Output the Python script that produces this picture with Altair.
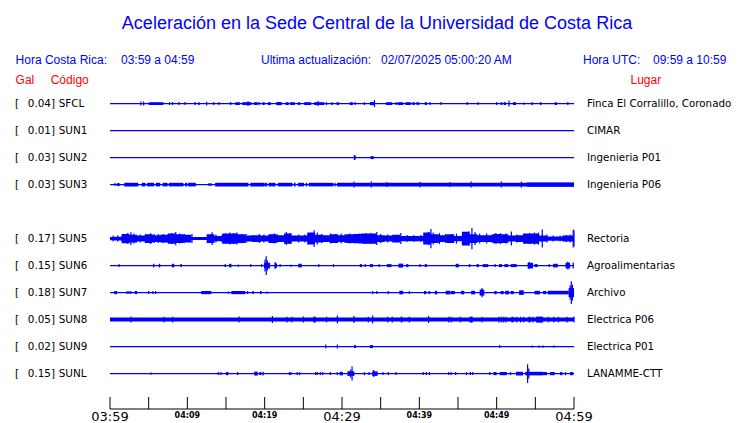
import altair as alt
import pandas as pd

# ---------------- text ----------------
TITLE = "Aceleración en la Sede Central de la Universidad de Costa Rica"
HEADER = ["Hora Costa Rica:", "03:59 a 04:59", "Ultima actualización:",
          "02/07/2025 05:00:20 AM", "Hora UTC:", "09:59 a 10:59"]
COLUMN_HEADS = ["Gal", "Código", "Lugar"]

# ---------------- stations ----------------
CODES = ["SFCL", "SUN1", "SUN2", "SUN3", "SUN5", "SUN6", "SUN7", "SUN8", "SUN9", "SUNL"]
PEAK_GAL = ["0.04", "0.01", "0.03", "0.03", "0.17", "0.15", "0.18", "0.05", "0.02", "0.15"]
PLACES = ["Finca El Corralillo, Coronado", "CIMAR", "Ingenieria P01", "Ingenieria P06",
          "Rectoria", "Agroalimentarias", "Archivo", "Electrica P06", "Electrica P01",
          "LANAMME-CTT"]
ROW_SLOT = [0, 1, 2, 3, 5, 6, 7, 8, 9, 10]

# ---------------- time axis (minutes after 03:59) ----------------
TICK_MINUTES = [0, 5, 10, 15, 20, 25, 30, 35, 40, 45, 50, 55, 60]
MAJOR_MINUTES = [0, 30, 60]
MAJOR_LABELS = ["03:59", "04:29", "04:59"]
MINOR_MINUTES = [10, 20, 40, 50]
MINOR_LABELS = ["04:09", "04:19", "04:39", "04:49"]

# ---------------- trace activity: (start minute, end minute, deflection) ----------------
SFCL_EVENTS = [(4.0, 4.0, 2), (4.35, 4.35, 2), (5.0, 6.9, 1.4), (7.7, 7.7, 1.5), (8.1, 8.1, 1.5),
               (8.9, 8.9, 1.5), (9.7, 9.7, 1.5), (11.0, 11.0, 1.5), (11.4, 11.6, 1.4),
               (12.5, 12.5, 1.8), (13.4, 13.4, 1.5), (14.1, 14.1, 1.5), (15.6, 15.6, 1.5),
               (16.2, 16.8, 1.4), (17.1, 18.3, 1.4), (17.7, 18.0, 2.0), (18.6, 19.1, 1.4),
               (19.3, 19.3, 1.5), (19.7, 20.0, 1.4), (20.4, 20.8, 1.4), (21.5, 22.2, 1.6),
               (22.7, 23.1, 1.4), (23.3, 23.9, 1.4), (24.3, 24.6, 1.4), (25.1, 26.0, 1.4),
               (26.4, 27.7, 1.4), (26.9, 26.9, 2.5), (28.0, 28.0, 1.5), (28.6, 28.8, 1.4),
               (29.3, 29.6, 1.4), (31.0, 31.4, 1.4), (31.7, 31.7, 1.5), (32.9, 32.9, 1.5),
               (33.6, 34.2, 1.6), (34.2, 34.2, 3.5), (35.7, 36.5, 1.4), (37.0, 37.0, 1.5),
               (37.2, 37.9, 1.4), (38.2, 38.9, 1.4), (39.1, 39.4, 1.4), (39.7, 39.7, 1.5),
               (39.9, 39.9, 1.5), (40.7, 41.0, 1.4), (41.4, 41.4, 1.5), (42.8, 42.8, 1.5),
               (46.2, 46.2, 1.5), (47.6, 47.6, 1.5), (50.0, 50.0, 1.5), (50.5, 50.7, 1.4),
               (50.9, 51.2, 1.4), (51.6, 51.6, 3.0), (52.1, 52.5, 1.4), (53.5, 53.5, 1.2),
               (54.5, 54.7, 1.4), (55.6, 55.8, 1.4), (57.5, 57.8, 1.4), (59.2, 59.2, 1.5)]
SUN1_EVENTS = []
SUN2_EVENTS = [(31.6, 31.6, 2.5), (31.7, 31.7, 2.0), (33.7, 34.1, 1.5)]
SUN3_EVENTS = [(0.65, 0.65, 1.5), (0.9, 1.25, 1.5), (1.85, 3.65, 1.8), (4.1, 4.6, 1.8),
               (4.8, 5.7, 1.8), (5.9, 6.5, 1.8), (6.8, 7.45, 1.8), (7.6, 9.5, 1.8),
               (9.7, 10.0, 1.8), (10.1, 11.1, 1.8), (12.8, 12.8, 1.5), (13.05, 13.05, 1.5),
               (13.6, 17.9, 1.8), (18.15, 20.0, 1.8), (20.05, 20.3, 1.8), (20.5, 21.4, 1.8),
               (21.7, 23.6, 1.8), (23.8, 24.0, 1.8), (24.3, 25.1, 1.8), (25.3, 25.5, 1.8),
               (25.7, 28.9, 1.8), (29.1, 29.1, 1.8), (29.35, 60.0, 1.8), (53.9, 60.0, 2.2),
               (31.55, 31.55, 3.0), (33.8, 33.8, 3.0), (35.8, 35.8, 2.5), (40.1, 40.1, 2.8),
               (43.96, 43.96, 2.5), (46.7, 46.7, 3.0), (50.6, 50.6, 3.0), (53.2, 53.2, 3.0)]
SUN6_EVENTS = [(1.1, 1.25, 1.5), (5.65, 5.65, 1.8), (6.3, 6.5, 1.8), (8.0, 8.3, 1.8),
               (9.1, 9.3, 1.5), (14.8, 15.0, 1.4), (15.4, 15.7, 1.8), (16.6, 16.6, 1.2),
               (18.2, 18.2, 1.5), (19.6, 19.6, 1.5), (19.9, 20.7, 2.8), (20.2, 20.2, 9.3),
               (20.05, 20.05, 6.0), (20.35, 20.35, 5.0), (21.3, 21.6, 2.2), (21.35, 21.35, 3.5),
               (22.0, 22.0, 1.5), (23.4, 23.4, 1.2), (24.35, 24.8, 1.8), (27.0, 27.0, 1.5),
               (28.9, 28.9, 1.5), (32.3, 32.6, 1.5), (33.0, 33.0, 1.5), (33.6, 34.0, 1.5),
               (34.8, 34.8, 1.5), (35.8, 36.4, 1.5), (37.3, 37.9, 2.0), (38.3, 38.6, 1.5),
               (40.1, 40.1, 1.5), (40.7, 41.0, 1.5), (44.7, 45.1, 1.8), (46.4, 46.6, 1.5),
               (47.4, 47.7, 1.5), (48.2, 48.9, 1.5), (49.8, 49.8, 1.5), (50.3, 50.7, 1.5),
               (51.0, 51.5, 1.5), (51.8, 52.6, 1.5), (54.0, 54.7, 2.8), (54.2, 54.2, 3.5),
               (54.9, 55.3, 1.5), (56.8, 56.8, 1.5), (57.3, 57.9, 1.8), (58.9, 59.5, 2.8),
               (59.2, 59.2, 4.0), (59.9, 59.9, 3.0)]
SUN7_EVENTS = [(0.55, 0.9, 1.6), (2.2, 2.2, 1.5), (2.45, 2.45, 1.5), (2.7, 2.7, 1.5),
               (3.2, 3.5, 1.6), (5.0, 5.0, 1.5), (5.55, 5.55, 1.5), (5.9, 5.9, 1.5),
               (11.8, 13.1, 1.6), (15.3, 15.3, 1.2), (15.7, 17.5, 1.6), (17.8, 17.8, 1.5),
               (18.4, 18.6, 1.5), (19.4, 19.6, 1.5), (20.3, 20.3, 1.2), (33.9, 34.05, 1.6),
               (34.5, 34.5, 1.5), (35.9, 36.05, 1.6), (37.4, 37.9, 1.8), (38.7, 38.7, 1.5),
               (40.6, 40.9, 1.6), (41.2, 41.4, 1.6), (42.0, 42.3, 1.8), (43.4, 44.0, 1.8),
               (44.05, 44.6, 1.6), (45.4, 45.8, 1.8), (46.7, 47.2, 1.8), (47.8, 48.4, 3.0),
               (48.1, 48.1, 4.7), (49.7, 50.0, 1.6), (50.5, 50.9, 1.6), (51.1, 51.6, 1.8),
               (51.8, 52.2, 1.6), (52.9, 53.5, 2.3), (54.9, 55.6, 1.8), (56.0, 56.4, 1.6),
               (56.6, 59.3, 1.8), (59.3, 60.0, 4.5), (59.65, 59.65, 11.3), (59.5, 59.5, 7.0),
               (59.8, 59.8, 8.0)]
SUN8_EVENTS = [(0.0, 60.0, 2.0), (2.7, 2.7, 3.0), (7.0, 7.0, 2.8), (8.1, 8.1, 2.8),
               (16.7, 16.7, 3.0), (21.0, 21.0, 3.5), (22.9, 22.9, 2.8), (23.5, 23.5, 2.8),
               (25.0, 25.0, 3.0), (26.3, 26.6, 3.0), (28.0, 28.0, 2.8), (29.4, 29.4, 4.0),
               (31.55, 31.55, 3.5), (33.4, 33.4, 2.8), (33.96, 33.96, 4.0), (35.9, 35.9, 2.8),
               (36.5, 36.5, 2.8), (37.6, 37.8, 3.0), (38.7, 38.7, 2.8), (41.2, 41.2, 3.5),
               (43.8, 43.8, 2.8), (44.1, 44.1, 2.8), (45.3, 45.3, 2.8), (46.5, 46.9, 3.0),
               (48.1, 48.1, 2.8), (50.3, 50.3, 2.8), (50.6, 50.6, 2.8), (50.9, 50.9, 2.8),
               (51.2, 51.2, 2.8), (51.9, 52.2, 2.8), (52.6, 52.6, 2.8), (53.1, 53.1, 2.8),
               (53.5, 53.5, 2.8), (54.1, 54.4, 2.8), (54.7, 54.7, 2.8), (55.1, 56.0, 3.0),
               (56.7, 56.7, 2.8), (57.4, 57.4, 2.8), (58.0, 58.0, 2.8), (59.1, 59.1, 2.8),
               (60.0, 60.0, 3.0)]
SUN9_EVENTS = [(27.9, 27.9, 2.0), (29.4, 29.4, 2.0), (31.55, 31.8, 1.5), (33.6, 34.0, 1.5),
               (50.4, 50.4, 1.5), (54.6, 54.6, 1.2), (55.5, 55.5, 1.2), (56.0, 56.0, 1.2),
               (57.4, 57.4, 1.2)]
SUNL_EVENTS = [(5.3, 5.3, 1.2), (14.0, 14.0, 1.5), (14.35, 14.35, 1.5), (15.0, 15.3, 1.6),
               (16.5, 16.5, 1.5), (18.65, 19.1, 2.0), (19.3, 19.6, 1.5), (19.8, 19.8, 1.8),
               (23.2, 23.2, 1.5), (23.4, 23.4, 1.5), (24.2, 24.2, 1.5), (24.5, 24.5, 1.5),
               (26.6, 26.6, 1.5), (26.8, 26.8, 1.5), (27.2, 27.2, 1.5), (27.5, 27.5, 1.5),
               (28.5, 28.5, 1.5), (29.4, 29.4, 1.5), (29.7, 30.1, 1.8), (30.7, 31.6, 2.3),
               (31.3, 31.3, 7.0), (31.1, 31.1, 4.0), (32.9, 32.9, 1.5), (33.5, 33.5, 1.5),
               (33.9, 34.6, 2.3), (34.1, 34.1, 3.5), (35.3, 35.3, 1.5), (36.0, 36.0, 1.5),
               (37.0, 37.0, 1.5), (40.5, 40.5, 1.5), (40.9, 40.9, 1.5), (41.3, 41.3, 1.5),
               (43.8, 43.8, 1.5), (44.1, 44.1, 1.5), (44.7, 44.7, 1.5), (46.1, 46.1, 1.5),
               (46.6, 46.6, 1.5), (46.9, 46.9, 1.5), (49.1, 49.1, 1.5), (49.6, 50.0, 1.6),
               (50.4, 51.3, 1.6), (51.8, 51.8, 1.5), (52.5, 53.4, 1.8), (53.7, 56.0, 1.8),
               (54.0, 54.0, 9.3), (54.15, 54.15, 5.0), (56.0, 56.5, 1.6), (56.9, 57.5, 1.6),
               (58.2, 58.5, 1.6), (58.9, 58.9, 1.5), (59.5, 59.9, 1.6)]
# Rectoria (SUN5): individual spikes sticking out of the continuous band
SUN5_EVENTS = [(0.4, 0.4, 3.0), (1.0, 1.0, 3.0), (1.6, 1.6, 3.5), (2.3, 2.3, 5.5),
               (2.7, 2.7, 6.3), (3.1, 3.1, 5.0), (3.9, 3.9, 4.0), (4.6, 4.6, 4.0),
               (5.26, 5.26, 5.3), (5.7, 5.7, 4.5), (6.25, 6.25, 4.5), (6.9, 6.9, 4.5),
               (7.4, 7.4, 4.0), (8.0, 8.0, 5.5), (8.5, 8.5, 6.7), (9.0, 9.0, 5.0),
               (9.6, 9.6, 4.5), (10.6, 10.6, 4.5), (13.2, 13.2, 6.3), (13.7, 13.7, 4.0),
               (14.5, 14.5, 3.5), (15.0, 15.0, 5.0), (15.5, 15.5, 6.0), (16.0, 16.0, 5.5),
               (16.4, 16.4, 6.0), (17.0, 17.0, 4.5), (17.6, 17.6, 4.5), (18.4, 18.4, 3.5),
               (19.3, 19.3, 4.5), (19.9, 19.9, 4.0), (21.25, 21.25, 5.0), (21.6, 21.6, 4.5),
               (22.8, 22.8, 6.5), (23.3, 23.3, 5.5), (24.4, 24.4, 4.0), (25.2, 25.2, 4.0),
               (26.4, 26.4, 8.3), (26.8, 26.8, 6.0), (27.4, 27.4, 4.5), (28.5, 28.5, 5.0),
               (29.2, 29.2, 4.5), (29.9, 29.9, 5.0), (30.4, 30.4, 4.5), (31.0, 31.0, 5.0),
               (31.6, 31.6, 4.5), (32.3, 32.3, 5.0), (33.1, 33.1, 5.5), (33.7, 33.7, 5.5),
               (34.5, 34.5, 6.5), (35.0, 35.0, 4.5), (35.9, 35.9, 4.0), (36.7, 36.7, 3.5),
               (37.6, 37.6, 5.5), (38.4, 38.4, 3.5), (39.3, 39.3, 3.5), (40.2, 40.2, 3.5),
               (41.2, 41.2, 6.5), (41.5, 41.5, 9.7), (41.8, 41.8, 6.0), (42.6, 42.6, 5.5),
               (43.4, 43.4, 4.5), (44.2, 44.2, 4.5), (44.8, 44.8, 5.0), (45.6, 45.6, 3.5),
               (46.4, 46.4, 7.0), (46.8, 46.8, 10.7), (47.2, 47.2, 6.5), (47.8, 47.8, 5.0),
               (48.7, 48.7, 5.0), (49.4, 49.4, 4.0), (49.9, 49.9, 5.5), (50.5, 50.5, 5.5),
               (51.2, 51.2, 5.0), (51.9, 51.9, 7.0), (52.6, 52.6, 4.0), (53.5, 53.5, 5.0),
               (54.3, 54.3, 5.5), (54.9, 54.9, 6.0), (55.4, 55.4, 6.0), (55.9, 55.9, 9.0),
               (56.5, 56.5, 4.0), (57.3, 57.3, 3.0), (58.2, 58.2, 3.0), (59.0, 59.0, 3.5),
               (59.5, 59.5, 4.0), (59.9, 59.9, 9.0), (60.0, 60.0, 8.0)]
# Rectoria (SUN5) dense core of the continuous band, one reading per minute (0..60)
SUN5_ENVELOPE = [1.7, 1.9, 4.7, 3.8, 3.0, 4.3, 3.4, 3.8, 5.1, 4.3, 3.8, 1.5, 1.5, 4.3, 2.6,
                 5.1, 5.1, 4.3, 3.0, 3.4, 3.0, 4.3, 3.4, 5.1, 3.0, 3.0, 6.0, 3.8, 3.4, 4.3,
                 3.4, 4.3, 4.7, 5.1, 5.1, 3.4, 3.0, 3.8, 2.6, 2.6, 2.6, 6.0, 4.3, 3.4, 4.3,
                 2.6, 6.8, 4.3, 3.4, 3.4, 4.7, 4.3, 3.0, 3.4, 5.1, 5.1, 3.0, 2.1, 2.1, 3.0,
                 3.0]

EVENTS = {"SFCL": SFCL_EVENTS, "SUN1": SUN1_EVENTS, "SUN2": SUN2_EVENTS, "SUN3": SUN3_EVENTS,
          "SUN5": SUN5_EVENTS, "SUN6": SUN6_EVENTS, "SUN7": SUN7_EVENTS, "SUN8": SUN8_EVENTS,
          "SUN9": SUN9_EVENTS, "SUNL": SUNL_EVENTS}

# ---------------- styling / scales ----------------
BLUE = "#0000ff"
RED = "#ff0000"
DEFL_PER_ROW = 27.0
XS = alt.Scale(domain=[0, 60], range=[102, 566], nice=False, zero=False)
YS = alt.Scale(domain=[0, 10], range=[95.6, 365.6], nice=False, zero=False)

# ---------------- tables ----------------
slot_of = dict(zip(CODES, ROW_SLOT))
stations = pd.DataFrame({"code": CODES, "gal": [g + "]" for g in PEAK_GAL],
                         "place": PLACES, "slot": ROW_SLOT})
base = pd.DataFrame({"code": CODES, "slot": ROW_SLOT, "t0": 0.0, "t1": 60.0})

seg_rows, tick_rows = [], []
for code, evs in EVENTS.items():
    s = slot_of[code]
    for (a, b, d) in evs:
        row = {"code": code, "t0": a, "t1": b,
               "lo": s - d / DEFL_PER_ROW, "hi": s + d / DEFL_PER_ROW}
        (seg_rows if b > a else tick_rows).append(row)
segs = pd.DataFrame(seg_rows)
ticks = pd.DataFrame(tick_rows)

s5 = slot_of["SUN5"]
env = pd.DataFrame({"t": list(range(len(SUN5_ENVELOPE))),
                    "lo": [s5 - v / DEFL_PER_ROW for v in SUN5_ENVELOPE],
                    "hi": [s5 + v / DEFL_PER_ROW for v in SUN5_ENVELOPE]})

axis_ticks = pd.DataFrame({"t": TICK_MINUTES})
major = pd.DataFrame({"t": MAJOR_MINUTES, "lab": MAJOR_LABELS})
minor = pd.DataFrame({"t": MINOR_MINUTES, "lab": MINOR_LABELS})
axis_line = pd.DataFrame({"t0": [0], "t1": [60]})
ONE = pd.DataFrame({"k": [0]})

X0 = alt.X("t0:Q", scale=XS, axis=None)

baseline = alt.Chart(base).mark_rule(color=BLUE, strokeWidth=1.4).encode(
    x=X0, x2="t1:Q", y=alt.Y("slot:Q", scale=YS, axis=None))
seg_layer = alt.Chart(segs).mark_rect(color=BLUE).encode(
    x=X0, x2="t1:Q", y=alt.Y("lo:Q", scale=YS, axis=None), y2="hi:Q")
tick_layer = alt.Chart(ticks).mark_rule(color=BLUE, strokeWidth=1.2).encode(
    x=X0, y=alt.Y("lo:Q", scale=YS, axis=None), y2="hi:Q")
env_layer = alt.Chart(env).mark_area(color=BLUE, opacity=1, interpolate="step").encode(
    x=alt.X("t:Q", scale=XS, axis=None), y=alt.Y("lo:Q", scale=YS, axis=None), y2="hi:Q")

FONT_SANS = "Liberation Sans"
FONT_DV = "DejaVu Sans"

left_bracket = alt.Chart(stations).mark_text(text="[", align="left", baseline="middle",
                                              font=FONT_DV, fontSize=10.4, color="black").encode(
    x=alt.value(7), y=alt.Y("slot:Q", scale=YS, axis=None))
gal_text = alt.Chart(stations).mark_text(align="right", baseline="middle",
                                         font=FONT_DV, fontSize=10.4, color="black").encode(
    x=alt.value(47), y=alt.Y("slot:Q", scale=YS, axis=None), text="gal:N")
code_text = alt.Chart(stations).mark_text(align="left", baseline="middle",
                                          font=FONT_DV, fontSize=10.4, color="black").encode(
    x=alt.value(50.7), y=alt.Y("slot:Q", scale=YS, axis=None), text="code:N")
place_text = alt.Chart(stations).mark_text(align="left", baseline="middle",
                                           font=FONT_DV, fontSize=10.3, color="black").encode(
    x=alt.value(579), y=alt.Y("slot:Q", scale=YS, axis=None), text="place:N")


def label(text, x, y, size, color, align="left", font=FONT_SANS):
    return alt.Chart(ONE).mark_text(text=text, align=align, baseline="alphabetic",
                                    font=font, fontSize=size, color=color).encode(
        x=alt.value(x), y=alt.value(y))


header_layers = [
    label(TITLE, 369, 21, 18, BLUE, align="center"),
    label(HEADER[0], 7.6, 56, 12, BLUE),
    label(HEADER[1], 113, 56, 12, BLUE),
    label(HEADER[2], 253, 56, 12, BLUE),
    label(HEADER[3], 373, 56, 12, BLUE),
    label(HEADER[4], 575, 56, 12, BLUE),
    label(HEADER[5], 645, 56, 12, BLUE),
    label(COLUMN_HEADS[0], 7.6, 76, 12, RED),
    label(COLUMN_HEADS[1], 42.7, 76, 12, RED),
    label(COLUMN_HEADS[2], 622.5, 76, 12, RED),
]

axis_rule = alt.Chart(axis_line).mark_rule(color="black", strokeWidth=1).encode(
    x=X0, x2="t1:Q", y=alt.value(401))
axis_tick_layer = alt.Chart(axis_ticks).mark_rule(color="black", strokeWidth=1).encode(
    x=alt.X("t:Q", scale=XS, axis=None), y=alt.value(389), y2=alt.value(401))
major_text = alt.Chart(major).mark_text(align="center", baseline="alphabetic", font=FONT_DV,
                                        fontSize=13, color="black").encode(
    x=alt.X("t:Q", scale=XS, axis=None), y=alt.value(413), text="lab:N")
minor_text = alt.Chart(minor).mark_text(align="center", baseline="alphabetic", font=FONT_DV,
                                        fontSize=8, fontWeight="bold", color="black").encode(
    x=alt.X("t:Q", scale=XS, axis=None), y=alt.value(410), text="lab:N")

chart = alt.layer(
    baseline, env_layer, seg_layer, tick_layer,
    left_bracket, gal_text, code_text, place_text,
    *header_layers,
    axis_rule, axis_tick_layer, major_text, minor_text,
).properties(
    width=724, height=415, autosize="none", padding=0, background="white"
).configure_view(strokeWidth=0)

chart.save("out.html", embed_options={"renderer": "svg", "actions": False})
